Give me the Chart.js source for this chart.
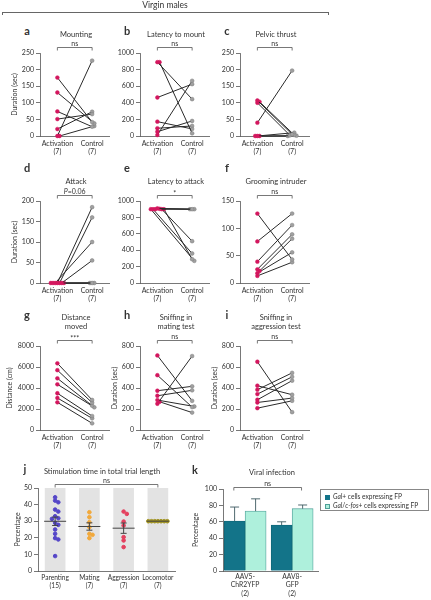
<!DOCTYPE html>
<html>
<head>
<meta charset="utf-8">
<script src="https://cdn.jsdelivr.net/npm/chart.js@4.4.0/dist/chart.umd.min.js"></script>
<style>
  body { margin: 0; background: #fff; }
  #fig { position: relative; width: 431px; height: 600px; overflow: hidden;
         font-family: Lato, "Open Sans", sans-serif; color: #333; }
  .t { position: absolute; transform: translate(-50%, -50%); white-space: nowrap;
       text-align: center; font-size: 7.5px; line-height: 9px; }
  .lt { position: absolute; transform: translate(-50%, -50%); font-weight: bold; font-size: 11px; }
  canvas { position: absolute; }
  .legend { position: absolute; border: 0.8px solid #888; font-size: 6.6px; line-height: 9px; padding: 2px 0 0 4px; box-sizing: border-box; }
  .sw { display: inline-block; width: 5px; height: 5px; margin-right: 3px; vertical-align: -0.5px; box-sizing: border-box; }
</style>
</head>
<body>
<div id="fig"></div>
<script>
// ---- data ----
const groupLabels = [['Activation', '(7)'], ['Control', '(7)']];

const mountingAct = [176, 131, 74, 51, 21, 0, 0];
const mountingCtl = [42, 38, 28, 66, 73, 227, 30];
const latMountAct = [890, 890, 464, 173, 93, 52, 12];
const latMountCtl = [444, 32, 625, 85, 121, 181, 665];
const pelvicAct = [107, 103, 100, 40, 0, 0, 0];
const pelvicCtl = [5, 3, 2, 197, 10, 1, 0];

const attackAct = [0, 0, 0, 0, 0, 0, 0];
const attackCtl = [185, 160, 100, 55, 0, 0, 0];
const latAttackAct = [910, 905, 900, 900, 900, 900, 900];
const latAttackCtl = [900, 900, 900, 510, 360, 290, 270];
const groomAct = [127, 76, 39, 25, 22, 18, 13];
const groomCtl = [43, 127, 106, 89, 81, 56, 38];

const distAct = [6350, 5700, 4920, 4350, 3500, 3050, 2635];
const distCtl = [2860, 2600, 2320, 2160, 1330, 1110, 635];
const sniffMateAct = [710, 522, 374, 326, 285, 269, 250];
const sniffMateCtl = [278, 218, 416, 378, 224, 166, 704];
const sniffAggAct = [650, 422, 384, 342, 288, 262, 208];
const sniffAggCtl = [170, 336, 544, 506, 470, 304, 278];

const stimGroups = [['Parenting', '(15)'], ['Mating', '(7)'], ['Aggression', '(7)'], ['Locomotor', '(7)']];
const parentingPct = [44.4, 42.4, 41.4, 37, 35.8, 33, 31.8, 31.4, 29, 27.8, 25, 22.4, 19.8, 19, 9];
const matingPct = [35.4, 32.4, 29.4, 26.4, 22.4, 21.8, 19.8];
const aggressionPct = [35.8, 34.4, 29.8, 27.4, 20.4, 18.4, 14.4];
const locomotorPct = [30, 30, 30, 30, 30, 30, 30];

const viralGroups = [['AAV5-', 'ChR2YFP', '(2)'], ['AAV8-', 'GFP', '(2)']];
const galFP = [61, 56];
const galFPErr = [17, 4];
const galFosFP = [73, 76];
const galFosFPErr = [15, 4.5];

// ---- style ----
const ACT = '#d3175e', CTL = '#a0a0a0', CTL_B = '#7a7a7a', LINE = '#2a2a2a', AX = '#555';
const FONT = 'Lato, "Open Sans", sans-serif';
Chart.defaults.font.family = FONT;
Chart.defaults.font.size = 7;
Chart.defaults.color = '#333';
Chart.defaults.animation = false;

const fig = document.getElementById('fig');

function addText(cls, html, x, y, style) {
  const d = document.createElement('div');
  d.className = cls;
  d.innerHTML = html;
  d.style.left = x + 'px';
  d.style.top = y + 'px';
  if (style) Object.assign(d.style, style);
  fig.appendChild(d);
  return d;
}

function makeCanvas(left, top, w, h) {
  const c = document.createElement('canvas');
  c.width = w; c.height = h;
  c.style.left = left + 'px'; c.style.top = top + 'px';
  c.style.width = w + 'px'; c.style.height = h + 'px';
  fig.appendChild(c);
  return c;
}

// significance bracket above the plot
const bracketPlugin = {
  id: 'bracket',
  afterDraw(chart, args, opts) {
    if (!opts || !opts.text) return;
    const {ctx, chartArea} = chart;
    const xs = chart.scales.x;
    const x1 = xs.getPixelForValue(opts.from), x2 = xs.getPixelForValue(opts.to);
    const y = Math.round(chartArea.top - opts.gap) + 0.5;
    ctx.save();
    ctx.strokeStyle = AX;
    ctx.lineWidth = 0.8;
    ctx.beginPath();
    ctx.moveTo(x1, y + 3); ctx.lineTo(x1, y); ctx.lineTo(x2, y); ctx.lineTo(x2, y + 3);
    ctx.stroke();
    ctx.fillStyle = '#333';
    ctx.textBaseline = 'alphabetic';
    const cx = (x1 + x2) / 2, ty = y - 2;
    if (opts.text.startsWith('P=')) {
      ctx.font = 'italic 7px ' + FONT;
      const wP = ctx.measureText('P').width;
      ctx.font = '7px ' + FONT;
      const wR = ctx.measureText(opts.text.slice(1)).width;
      const sx = cx - (wP + wR) / 2;
      ctx.textAlign = 'left';
      ctx.font = 'italic 7px ' + FONT;
      ctx.fillText('P', sx, ty);
      ctx.font = '7px ' + FONT;
      ctx.fillText(opts.text.slice(1), sx + wP, ty);
    } else {
      ctx.font = '7px ' + FONT;
      ctx.textAlign = 'center';
      ctx.fillText(opts.text, cx, ty + (opts.text.startsWith('*') ? 2 : 0));
    }
    ctx.restore();
  }
};
Chart.register(bracketPlugin);

const plainNum = v => String(v);

// spread close values sideways so dots do not sit on top of each other (simple beeswarm)
function swarm(values, gi, pxPerX, pxPerY, dotPx) {
  const placed = [];
  return values.map(v => {
    for (let k = 0; k < 40; k++) {
      const dx = (k % 2 ? 1 : -1) * Math.ceil(k / 2) * dotPx;
      if (placed.every(p => (p.dx - dx) ** 2 + ((p.v - v) * pxPerY) ** 2 >= dotPx * dotPx)) {
        placed.push({dx, v});
        return {x: gi + dx / pxPerX, y: v};
      }
    }
    return {x: gi, y: v};
  });
}

function pairPanel(p) {
  const padTop = 16, xH = 24, yW = 40, areaW = 70;
  const h = p.bottom - p.top;
  const c = makeCanvas(p.x - yW, p.top - padTop, yW + areaW + 4, h + padTop + xH);
  const pxPerX = areaW / 2, pxPerY = h / p.max;
  const actPts = swarm(p.act, 0, pxPerX, pxPerY, 2.2);
  const ctlPts = swarm(p.ctl, 1, pxPerX, pxPerY, 2.2);
  const datasets = p.act.map((a, i) => ({
    data: [actPts[i], ctlPts[i]],
    borderColor: LINE,
    borderWidth: 1,
    pointBackgroundColor: [ACT, CTL],
    pointBorderColor: [ACT, CTL_B],
    pointBorderWidth: 0.5,
    pointRadius: 1.9,
    clip: false
  }));
  new Chart(c, {
    type: 'line',
    data: {datasets},
    options: {
      responsive: false,
      layout: {padding: {top: padTop, right: 4, left: 0, bottom: 0}},
      plugins: {
        legend: {display: false},
        tooltip: {enabled: false},
        bracket: {text: p.sig, from: 0, to: 1, gap: 6}
      },
      scales: {
        x: {
          type: 'linear', min: -0.5, max: 1.5,
          afterBuildTicks: s => { s.ticks = [{value: 0}, {value: 1}]; },
          afterFit: s => { s.height = xH; },
          grid: {display: false, drawTicks: false},
          border: {color: AX, width: 0.8},
          ticks: {callback: v => groupLabels[v], padding: 4, font: {size: 7, lineHeight: 1.1}, maxRotation: 0, autoSkip: false}
        },
        y: {
          min: 0, max: p.max,
          afterFit: s => { s.width = yW; },
          border: {color: AX, width: 0.8},
          grid: {drawOnChartArea: false, tickLength: 4, color: AX, lineWidth: 0.8},
          ticks: {stepSize: p.step, padding: 2, font: {size: 7}, callback: plainNum},
          title: {display: !!p.yTitle, text: p.yTitle, font: {size: 7}, padding: {top: p.yTitlePad || 11, bottom: 0}}
        }
      }
    }
  });
  addText('lt', p.letter, p.x - 13, p.letterY);
  addText('t', p.title, p.x + 36, p.titleY);
}

const R1 = {top: 53, bottom: 136, letterY: 30, titleY: 34};
const R2 = {top: 201, bottom: 283, letterY: 167, titleY: 181};
const R3 = {top: 346, bottom: 430, letterY: 314, titleY: 321.5};

[
  {letter: 'a', title: 'Mounting', sig: 'ns', x: 40, ...R1, max: 250, step: 50, yTitle: 'Duration (sec)', act: mountingAct, ctl: mountingCtl},
  {letter: 'b', title: 'Latency to mount', sig: 'ns', x: 140, ...R1, max: 1000, step: 200, act: latMountAct, ctl: latMountCtl},
  {letter: 'c', title: 'Pelvic thrust', sig: 'ns', x: 240, ...R1, max: 250, step: 50, act: pelvicAct, ctl: pelvicCtl},
  {letter: 'd', title: 'Attack', sig: 'P=0.06', x: 40, ...R2, max: 200, step: 50, yTitle: 'Duration (sec)', act: attackAct, ctl: attackCtl},
  {letter: 'e', title: 'Latency to attack', sig: '*', x: 140, ...R2, max: 1000, step: 200, act: latAttackAct, ctl: latAttackCtl},
  {letter: 'f', title: 'Grooming intruder', sig: 'ns', x: 240, ...R2, max: 150, step: 50, act: groomAct, ctl: groomCtl},
  {letter: 'g', title: 'Distance<br>moved', sig: '***', x: 40, ...R3, max: 8000, step: 2000, yTitle: 'Distance (cm)', yTitlePad: 6, act: distAct, ctl: distCtl},
  {letter: 'h', title: 'Sniffing in<br>mating test', sig: 'ns', x: 140, ...R3, max: 800, step: 200, yTitle: 'Duration (sec)', act: sniffMateAct, ctl: sniffMateCtl},
  {letter: 'i', title: 'Sniffing in<br>aggression test', sig: 'ns', x: 240, ...R3, max: 800, step: 200, yTitle: 'Duration (sec)', act: sniffAggAct, ctl: sniffAggCtl}
].forEach(pairPanel);

// header
addText('t', 'Virgin males', 165, 5, {fontSize: '8.5px'});
const hdr = document.createElement('div');
Object.assign(hdr.style, {position: 'absolute', left: '2px', top: '12px', width: '325px', height: '2px',
  borderTop: '0.8px solid #666', borderLeft: '0.8px solid #666', borderRight: '0.8px solid #666'});
fig.appendChild(hdr);

// ---- panel j ----
function mean(a) { return a.reduce((s, v) => s + v, 0) / a.length; }
function sem(a) {
  const m = mean(a);
  return Math.sqrt(a.reduce((s, v) => s + (v - m) * (v - m), 0) / (a.length - 1)) / Math.sqrt(a.length);
}

const stimSets = [parentingPct, matingPct, aggressionPct, locomotorPct];
const stimColors = ['#5546c8', '#f2a93b', '#e4405e', '#a0921e'];
const jTop = 488, jBottom = 571, jAxis = 38, jAreaW = 138;
const meanPlugin = {
  id: 'meanSem',
  afterDatasetsDraw(chart) {
    const {ctx} = chart, xs = chart.scales.x, ys = chart.scales.y;
    ctx.save();
    ctx.strokeStyle = '#444';
    ctx.lineWidth = 1;
    stimSets.forEach((set, i) => {
      const m = mean(set), e = sem(set);
      const x = xs.getPixelForValue(i);
      const y = ys.getPixelForValue(m), y1 = ys.getPixelForValue(m + e), y2 = ys.getPixelForValue(m - e);
      ctx.beginPath();
      ctx.moveTo(x - 11, y); ctx.lineTo(x + 11, y);
      if (e > 0) {
        ctx.moveTo(x, y1); ctx.lineTo(x, y2);
        ctx.moveTo(x - 3, y1); ctx.lineTo(x + 3, y1);
        ctx.moveTo(x - 3, y2); ctx.lineTo(x + 3, y2);
      }
      ctx.stroke();
    });
    ctx.restore();
  }
};
{
  const padTop = 16, xH = 24;
  const c = makeCanvas(0, jTop - padTop, jAxis + jAreaW + 4, jBottom - jTop + padTop + xH);
  const pxPerX = jAreaW / 4, pxPerY = (jBottom - jTop) / 50;
  const datasets = stimSets.map((set, i) => ({
    type: 'scatter',
    data: swarm(set, i, pxPerX, pxPerY, 3.2),
    backgroundColor: stimColors[i],
    borderColor: stimColors[i],
    pointRadius: 1.8,
    order: 0,
    clip: false
  }));
  datasets.push({
    type: 'bar',
    data: stimGroups.map((g, i) => ({x: i, y: 50})),
    backgroundColor: '#e3e3e3',
    barThickness: 20,
    order: 10
  });
  new Chart(c, {
    type: 'bar',
    data: {datasets},
    plugins: [meanPlugin],
    options: {
      responsive: false,
      layout: {padding: {top: padTop, right: 4, left: 0, bottom: 0}},
      plugins: {legend: {display: false}, tooltip: {enabled: false}, bracket: {text: 'ns', from: 0, to: 3, gap: 4}},
      scales: {
        x: {
          type: 'linear', min: -0.5, max: 3.5, offset: false,
          afterBuildTicks: s => { s.ticks = stimGroups.map((g, i) => ({value: i})); },
          afterFit: s => { s.height = xH; },
          grid: {display: false, drawTicks: false},
          border: {color: AX, width: 0.8},
          ticks: {callback: v => stimGroups[v], padding: 3, font: {size: 6.6, lineHeight: 1.15}, maxRotation: 0, autoSkip: false}
        },
        y: {
          min: 0, max: 50,
          afterFit: s => { s.width = jAxis; },
          border: {color: AX, width: 0.8},
          grid: {drawOnChartArea: false, tickLength: 4, color: AX, lineWidth: 0.8},
          ticks: {stepSize: 10, padding: 2, font: {size: 7}},
          title: {display: true, text: 'Percentage', font: {size: 7}, padding: {top: 14, bottom: 0}}
        }
      }
    }
  });
  addText('lt', 'j', 25, 468);
  addText('t', 'Stimulation time in total trial length', 102, 471);
}

// ---- panel k ----
const kTop = 489, kBottom = 571, kAxis = 223, kAreaW = 95;
const kErrors = [galFPErr, galFosFPErr];
const errPlugin = {
  id: 'errUp',
  afterDatasetsDraw(chart) {
    const {ctx} = chart, ys = chart.scales.y;
    ctx.save();
    ctx.strokeStyle = '#3d5960';
    ctx.lineWidth = 0.9;
    chart.data.datasets.forEach((ds, di) => {
      chart.getDatasetMeta(di).data.forEach((bar, j) => {
        const top = ys.getPixelForValue(ds.data[j].y + kErrors[di][j]);
        ctx.beginPath();
        ctx.moveTo(bar.x, bar.y); ctx.lineTo(bar.x, top);
        ctx.moveTo(bar.x - 4.5, top); ctx.lineTo(bar.x + 4.5, top);
        ctx.stroke();
      });
    });
    ctx.restore();
  }
};
{
  const padTop = 16, xH = 29, yW = 40;
  const c = makeCanvas(kAxis - yW, kTop - padTop, yW + kAreaW + 2, kBottom - kTop + padTop + xH);
  new Chart(c, {
    type: 'bar',
    data: {
      datasets: [
        {data: galFP.map((v, i) => ({x: i, y: v})), backgroundColor: '#137489', borderColor: '#0f6474', borderWidth: 0.8, barThickness: 21},
        {data: galFosFP.map((v, i) => ({x: i, y: v})), backgroundColor: '#aef0dc', borderColor: '#4f9f98', borderWidth: 0.8, barThickness: 21}
      ]
    },
    plugins: [errPlugin],
    options: {
      responsive: false,
      layout: {padding: {top: padTop, right: 2, left: 0, bottom: 0}},
      plugins: {legend: {display: false}, tooltip: {enabled: false}, bracket: {text: 'ns', from: -0.24, to: 1.2, gap: 2}},
      scales: {
        x: {
          type: 'linear', min: -0.47, max: 1.55, offset: false,
          afterBuildTicks: s => { s.ticks = viralGroups.map((g, i) => ({value: i})); },
          afterFit: s => { s.height = xH; },
          grid: {display: false, drawTicks: false},
          border: {color: AX, width: 0.8},
          ticks: {callback: v => viralGroups[v], padding: 2, font: {size: 6.8, lineHeight: 1.2}, maxRotation: 0, autoSkip: false}
        },
        y: {
          min: 0, max: 100,
          afterFit: s => { s.width = yW; },
          border: {color: AX, width: 0.8},
          grid: {drawOnChartArea: false, tickLength: 4, color: AX, lineWidth: 0.8},
          ticks: {stepSize: 20, padding: 2, font: {size: 7}},
          title: {display: true, text: 'Percentage', font: {size: 7}, padding: {top: 9, bottom: 0}}
        }
      }
    }
  });
  addText('lt', 'k', 195, 469);
  addText('t', 'Viral infection', 272, 472);
  const lg = document.createElement('div');
  lg.className = 'legend';
  Object.assign(lg.style, {left: '320px', top: '489px', width: '109px', height: '22px'});
  lg.innerHTML =
    '<div><span class="sw" style="background:#137489"></span><i>Gal</i>+ cells expressing FP</div>' +
    '<div><span class="sw" style="background:#aef0dc;border:0.6px solid #4f9f98"></span><i>Gal</i>/<i>c-fos</i>+ cells expressing FP</div>';
  fig.appendChild(lg);
}
</script>
</body>
</html>
